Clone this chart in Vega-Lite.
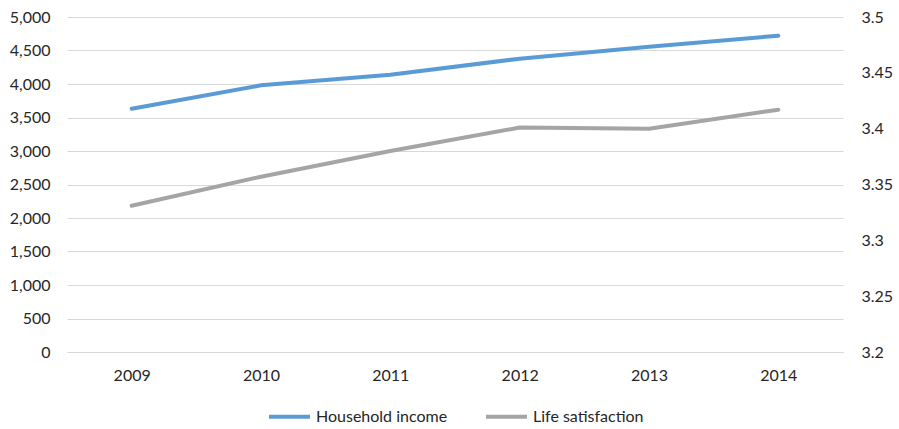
{
  "$schema": "https://vega.github.io/schema/vega-lite/v6.json",
  "width": 776,
  "height": 335,
  "autosize": {"type": "none"},
  "padding": {"left": 67, "top": 17, "right": 56, "bottom": 77},
  "background": "white",
  "config": {
    "view": {"stroke": null},
    "font": "Lato",
    "axis": {"labelFont": "Lato", "labelFontSize": 16, "labelColor": "#262626", "ticks": false, "domain": false, "title": null},
    "legend": {"labelFont": "Lato", "labelFontSize": 16, "labelColor": "#262626"}
  },
  "data": {
    "values": [
      {"year": "2009", "income": 3631, "satisfaction": 3.331},
      {"year": "2010", "income": 3980, "satisfaction": 3.357},
      {"year": "2011", "income": 4139, "satisfaction": 3.380},
      {"year": "2012", "income": 4378, "satisfaction": 3.401},
      {"year": "2013", "income": 4557, "satisfaction": 3.400},
      {"year": "2014", "income": 4721, "satisfaction": 3.417}
    ]
  },
  "encoding": {
    "x": {
      "field": "year",
      "type": "ordinal",
      "scale": {"type": "point", "padding": 0.5},
      "axis": {"labelAngle": 0, "labelPadding": 15, "grid": false, "domain": true, "domainColor": "#d9d9d9", "domainWidth": 1}
    }
  },
  "layer": [
    {
      "mark": {"type": "line", "strokeWidth": 4, "strokeCap": "round", "strokeJoin": "round"},
      "encoding": {
        "y": {
          "field": "income",
          "type": "quantitative",
          "scale": {"domain": [0, 5000], "nice": false},
          "axis": {"values": [0, 500, 1000, 1500, 2000, 2500, 3000, 3500, 4000, 4500, 5000], "format": ",d", "grid": true, "gridColor": "#d9d9d9", "gridWidth": 1, "labelPadding": 17}
        },
        "color": {
          "datum": "Household income",
          "type": "nominal",
          "scale": {"domain": ["Household income", "Life satisfaction"], "range": ["#5b9bd5", "#a5a5a5"]},
          "legend": {
            "title": null,
            "orient": "none",
            "direction": "horizontal",
            "legendX": 200,
            "legendY": 377,
            "symbolType": "stroke",
            "symbolSize": 1681,
            "symbolStrokeWidth": 4,
            "labelOffset": 4,
            "columnPadding": 30
          }
        }
      }
    },
    {
      "mark": {"type": "line", "strokeWidth": 4, "strokeCap": "round", "strokeJoin": "round"},
      "encoding": {
        "y": {
          "field": "satisfaction",
          "type": "quantitative",
          "scale": {"domain": [3.2, 3.5], "nice": false, "zero": false},
          "axis": {"orient": "right", "values": [3.2, 3.25, 3.3, 3.35, 3.4, 3.45, 3.5], "format": ".2~f", "grid": false, "labelPadding": 18}
        },
        "color": {"datum": "Life satisfaction", "type": "nominal"}
      }
    }
  ],
  "resolve": {"scale": {"y": "independent"}}
}
